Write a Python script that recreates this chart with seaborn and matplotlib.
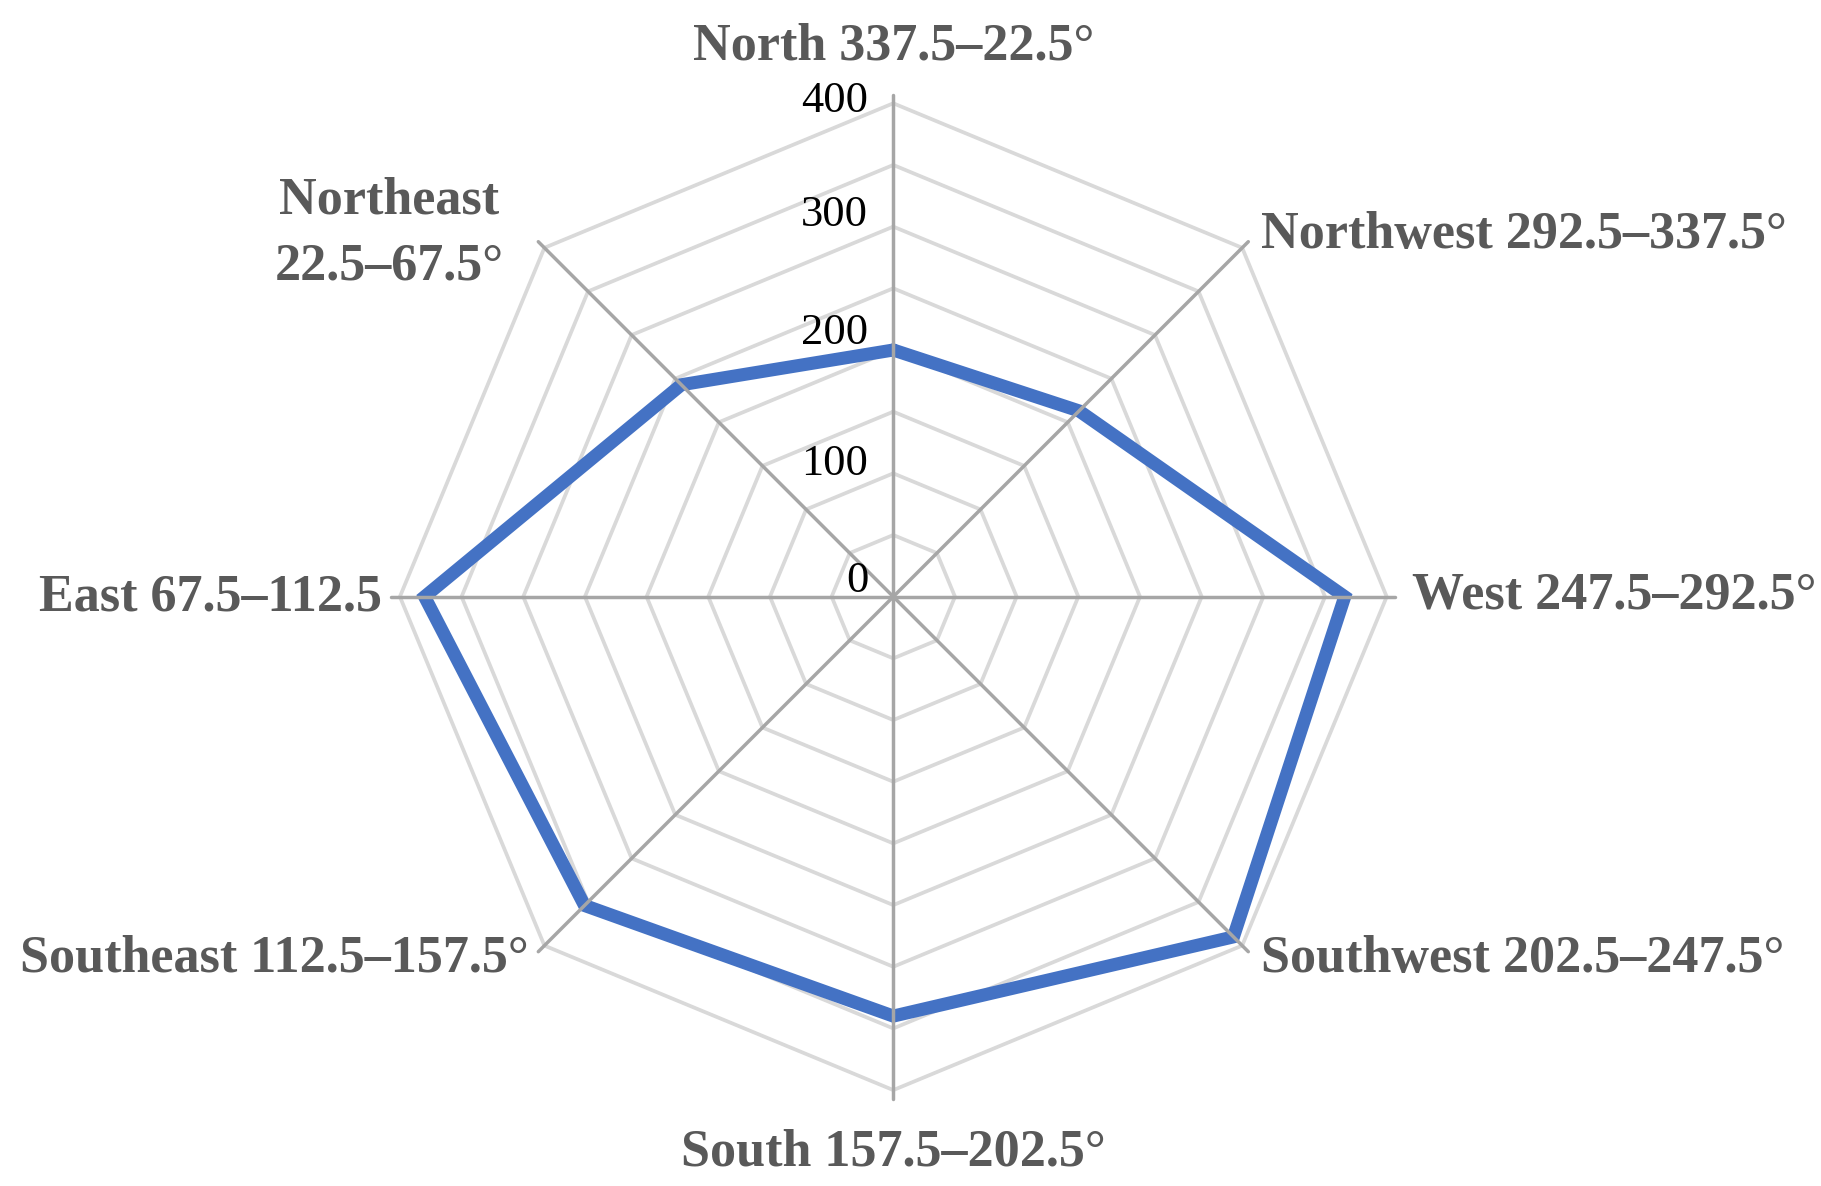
"""Radar chart of counts per wind direction sector."""

import matplotlib
matplotlib.use("Agg")
import matplotlib.pyplot as plt
import numpy as np
import pandas as pd
import seaborn as sns

# data
directions = [
    "North 337.5–22.5°",
    "Northeast\n22.5–67.5°",
    "East 67.5–112.5",
    "Southeast 112.5–157.5°",
    "South 157.5–202.5°",
    "Southwest 202.5–247.5°",
    "West 247.5–292.5°",
    "Northwest 292.5–337.5°",
]
counts = [200, 243, 380, 354, 340, 390, 366, 213]
ring_levels = [50, 100, 150, 200, 250, 300, 350, 400]
tick_values = [0, 100, 200, 300, 400]

# layout (pixels at dpi 100)
W, H = 1821, 1186
CX, CY = 893.3, 596.7          # centre of the web, from top-left
R400 = 493.4                   # radius of the 400 ring
SPOKE_R = 407
tick_dy = [16, 9, 17, 12, 2]   # Excel puts the value labels a bit unevenly
label_style = [
    # (dx, dy, ha, va) offsets in pixels from spoke end
    (0, 35, "center", "baseline"),
    (-35, 8, "right", "center"),
    (-9, -14, "right", "baseline"),
    (-10, -20, "right", "baseline"),
    (0, -67, "center", "baseline"),
    (13, -20, "left", "baseline"),
    (17, -12, "left", "baseline"),
    (13, -6, "left", "baseline"),
]

sns.set_theme(style="white")
plt.rcParams["font.family"] = ["Liberation Serif", "DejaVu Serif"]

fig = plt.figure(figsize=(W / 100, H / 100), dpi=100)
scale = 400 / R400
ax = fig.add_axes([0, 0, 1, 1])
ax.set_xlim(-CX * scale, (W - CX) * scale)
ax.set_ylim(-(H - CY) * scale, CY * scale)
ax.axis("off")

angles = np.deg2rad(90 + 45 * np.arange(len(directions)))
closed = np.append(angles, angles[0])

# grid rings
for lvl in ring_levels:
    ax.plot(lvl * np.cos(closed), lvl * np.sin(closed), color="#D9D9D9", lw=2.7, zorder=1)

# data polygon
vals = np.append(counts, counts[0])
df = pd.DataFrame({"x": vals * np.cos(closed), "y": vals * np.sin(closed)})
sns.lineplot(data=df, x="x", y="y", sort=False, estimator=None, color="#4472C4",
             lw=9.4, ax=ax, zorder=3, solid_joinstyle="miter")

# spokes
for a in angles:
    ax.plot([0, SPOKE_R * np.cos(a)], [0, SPOKE_R * np.sin(a)], color="#A6A6A6", lw=2.5, zorder=4)

# value tick labels along the north spoke
for t, dy in zip(tick_values, tick_dy):
    ax.annotate(str(t), xy=(0, t), xytext=(-25, dy), textcoords="offset pixels",
                ha="right", va="center", fontsize=32, color="black", zorder=5)

# category labels
for a, name, (dx, dy, ha, va) in zip(angles, directions, label_style):
    ax.annotate(name, xy=(SPOKE_R * np.cos(a), SPOKE_R * np.sin(a)), xytext=(dx, dy),
                textcoords="offset pixels", ha=ha, va=va, multialignment="center",
                fontsize=37.5, fontweight="bold", color="#595959", linespacing=1.5, zorder=5)

fig.savefig("out.png", dpi=100)
